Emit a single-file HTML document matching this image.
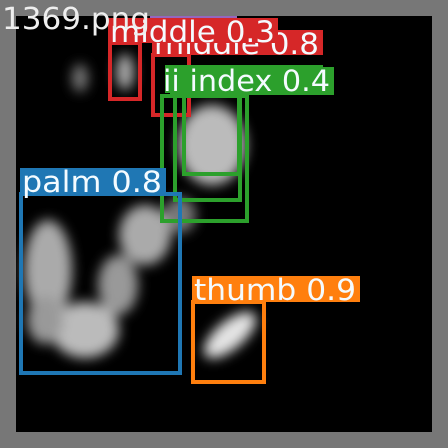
<!DOCTYPE html>
<html><head><meta charset="utf-8"><style>
html,body{margin:0;padding:0;background:#777;}
svg{display:block;}
text{font-family:"DejaVu Sans","Liberation Sans",sans-serif;fill:#f4fbff;}
</style></head><body>
<svg width="448" height="448" viewBox="0 0 448 448">
<defs>
<filter id="bl" x="-50%" y="-50%" width="200%" height="200%"><feGaussianBlur stdDeviation="6"/></filter>
</defs>
<rect x="0" y="0" width="448" height="448" fill="#777"/>
<rect x="16" y="16" width="416" height="416" fill="#000"/>
<g filter="url(#bl)">
<ellipse cx="80" cy="78" rx="8" ry="14" fill="#777"/>
<ellipse cx="125" cy="72" rx="9" ry="18" fill="#aaa"/>
<ellipse cx="212" cy="145" rx="34" ry="40" fill="#bbb"/>
<ellipse cx="180" cy="215" rx="16" ry="18" fill="#777"/>
<ellipse cx="48" cy="270" rx="24" ry="50" fill="#aaa"/>
<ellipse cx="145" cy="235" rx="26" ry="30" fill="#aaa"/>
<ellipse cx="118" cy="285" rx="20" ry="30" fill="#999"/>
<ellipse cx="85" cy="330" rx="34" ry="28" fill="#bbb"/>
<ellipse cx="45" cy="320" rx="18" ry="24" fill="#999"/>
<ellipse cx="230" cy="335" rx="32" ry="14" transform="rotate(-40 230 335)" fill="#e4e4e4"/>
</g>
<g fill="none" stroke-width="4">
<rect x="110" y="43" width="30" height="56" stroke="#d62728"/>
<rect x="153" y="55" width="36" height="60" stroke="#d62728"/>
<rect x="162" y="96" width="85" height="125" stroke="#2ca02c"/>
<rect x="175" y="96" width="65" height="104" stroke="#2ca02c"/>
<rect x="184" y="96" width="55" height="78" stroke="#2ca02c"/>
<rect x="21" y="194" width="159" height="179" stroke="#1f77b4"/>
<rect x="193" y="302" width="71" height="80" stroke="#ff7f0e"/>
</g>
<line x1="150" y1="17" x2="237" y2="17" stroke="#9467bd" stroke-width="2"/>
<g>
<rect x="152" y="30" width="171" height="25" fill="#d62728"/>
<text x="154" y="54" font-size="29" textLength="165" lengthAdjust="spacingAndGlyphs">middle 0.8</text>
<rect x="108" y="18" width="170" height="25" fill="#d62728"/>
<text x="110" y="42" font-size="29" textLength="165" lengthAdjust="spacingAndGlyphs">middle 0.3</text>
<rect x="165" y="65" width="158" height="28" fill="#2ca02c"/>
<rect x="170" y="67" width="164" height="28" fill="#2ca02c"/>
<text x="163" y="91" font-size="29" textLength="167" lengthAdjust="spacingAndGlyphs">ii index 0.4</text>
<rect x="20" y="168" width="146" height="25" fill="#1f77b4"/>
<text x="22" y="192" font-size="29" textLength="140" lengthAdjust="spacingAndGlyphs">palm 0.8</text>
<rect x="192" y="276" width="168" height="26" fill="#ff7f0e"/>
<text x="194" y="300" font-size="29" textLength="162" lengthAdjust="spacingAndGlyphs">thumb 0.9</text>
<text x="2" y="29" font-size="30" textLength="148" lengthAdjust="spacingAndGlyphs" style="fill:#eee">1369.png</text>
</g>
</svg>
</body></html>
